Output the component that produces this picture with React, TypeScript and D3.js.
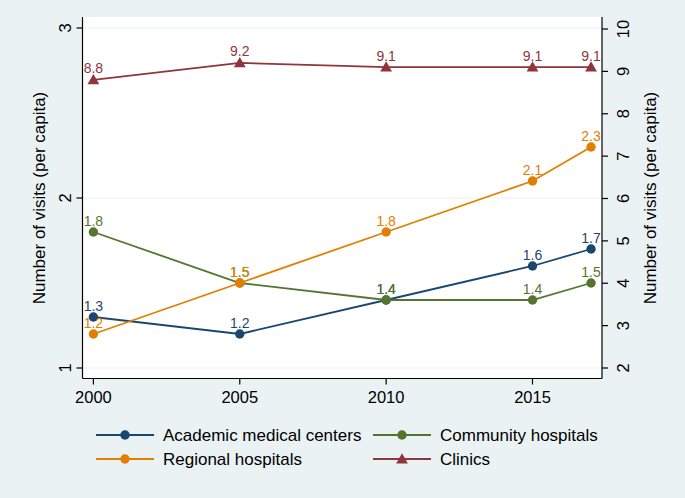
import React from "react";
import * as d3 from "d3";

const years = [2000, 2005, 2010, 2015, 2017];
const academic = [1.3, 1.2, 1.4, 1.6, 1.7];
const community = [1.8, 1.5, 1.4, 1.4, 1.5];
const regional = [1.2, 1.5, 1.8, 2.1, 2.3];
const clinics = [8.8, 9.2, 9.1, 9.1, 9.1];
const xTicks = [2000, 2005, 2010, 2015];
const leftTicks = [1, 2, 3];
const rightTicks = [2, 3, 4, 5, 6, 7, 8, 9, 10];
const yTitle = "Number of visits (per capita)";

const W = 685, H = 498;
const L = 82.5, R = 602, T = 17, B = 378.5;
const FONT = "'Liberation Sans', Arial, sans-serif";

const NAVY = "#1a476f", GREEN = "#55752f", ORANGE = "#e37e00", MAROON = "#90353b";

export default function App() {
  const x = d3.scaleLinear().domain([2000, 2015]).range([93.4, 532.5]);
  const yL = d3.scaleLinear().domain([1, 3]).range([368, 28]);
  const yR = d3.scaleLinear().domain([2, 10]).range([368, 29]);

  const series = [
    { name: "Academic medical centers", vals: academic, color: NAVY, y: yL, shape: "circle" },
    { name: "Community hospitals", vals: community, color: GREEN, y: yL, shape: "circle" },
    { name: "Regional hospitals", vals: regional, color: ORANGE, y: yL, shape: "circle" },
    { name: "Clinics", vals: clinics, color: MAROON, y: yR, shape: "triangle" },
  ];
  const tri = d3.symbol().type(d3.symbolTriangle).size(60)();

  const marker = (shape: string, color: string, cx: number, cy: number, key?: any) =>
    shape === "circle" ? (
      <circle key={key} cx={cx} cy={cy} r={4.7} fill={color} />
    ) : (
      <path key={key} d={tri!} transform={`translate(${cx},${cy + 1})`} fill={color} />
    );

  const legendItems = [
    { s: series[0], kx: 96, ky: 435 },
    { s: series[1], kx: 373, ky: 435 },
    { s: series[2], kx: 96, ky: 459 },
    { s: series[3], kx: 373, ky: 459 },
  ];

  return (
    <svg width={W} height={H} style={{ position: "absolute", left: 0, top: 0 }} fontFamily={FONT}>
      <rect x={0} y={0} width={W} height={H} fill="#eaf2f3" />
      <rect x={L} y={T} width={R - L} height={B - T} fill="#ffffff" />
      {leftTicks.map((t) => (
        <line key={"g" + t} x1={L} x2={R} y1={yL(t)} y2={yL(t)} stroke="#eaf2f3" strokeWidth={1.2} />
      ))}
      {/* axes */}
      <line x1={L} x2={L} y1={T} y2={B} stroke="#000" strokeWidth={1.2} />
      <line x1={R} x2={R} y1={T} y2={B} stroke="#000" strokeWidth={1.2} />
      <line x1={L} x2={R} y1={B} y2={B} stroke="#000" strokeWidth={1.2} />
      {leftTicks.map((t) => (
        <g key={"lt" + t}>
          <line x1={L - 6} x2={L} y1={yL(t)} y2={yL(t)} stroke="#000" strokeWidth={1.2} />
          <text transform={`translate(${71},${yL(t)}) rotate(-90)`} textAnchor="middle" fontSize={16.5} fill="#000">
            {t}
          </text>
        </g>
      ))}
      {rightTicks.map((t) => (
        <g key={"rt" + t}>
          <line x1={R} x2={R + 6} y1={yR(t)} y2={yR(t)} stroke="#000" strokeWidth={1.2} />
          <text transform={`translate(${629},${yR(t)}) rotate(-90)`} textAnchor="middle" fontSize={16.5} fill="#000">
            {t}
          </text>
        </g>
      ))}
      {xTicks.map((t) => (
        <g key={"xt" + t}>
          <line x1={x(t)} x2={x(t)} y1={B} y2={B + 6} stroke="#000" strokeWidth={1.2} />
          <text x={x(t)} y={403} textAnchor="middle" fontSize={16.5} fill="#000">
            {t}
          </text>
        </g>
      ))}
      <text transform={`translate(${45},${198}) rotate(-90)`} textAnchor="middle" fontSize={17} fill="#000">
        {yTitle}
      </text>
      <text transform={`translate(${656},${198}) rotate(-90)`} textAnchor="middle" fontSize={17} fill="#000">
        {yTitle}
      </text>
      {/* series */}
      {series.map((s, si) => {
        const line = d3
          .line<number>()
          .x((_, i) => x(years[i]))
          .y((v) => s.y(v));
        return (
          <g key={"s" + si}>
            <path d={line(s.vals)!} fill="none" stroke={s.color} strokeWidth={1.8} />
            {s.vals.map((v, i) => marker(s.shape, s.color, x(years[i]), s.y(v), i))}
            {s.vals.map((v, i) => (
              <text key={"l" + i} x={x(years[i])} y={s.y(v) - 6.5} textAnchor="middle" fontSize={14} fill={s.color}>
                {v.toFixed(1)}
              </text>
            ))}
          </g>
        );
      })}
      {/* legend */}
      {legendItems.map((it, i) => (
        <g key={"lg" + i}>
          <line x1={it.kx} x2={it.kx + 58} y1={it.ky} y2={it.ky} stroke={it.s.color} strokeWidth={1.8} />
          {marker(it.s.shape, it.s.color, it.kx + 29, it.ky)}
          <text x={it.kx + 67} y={it.ky + 6} fontSize={17} fill="#000">
            {it.s.name}
          </text>
        </g>
      ))}
    </svg>
  );
}
